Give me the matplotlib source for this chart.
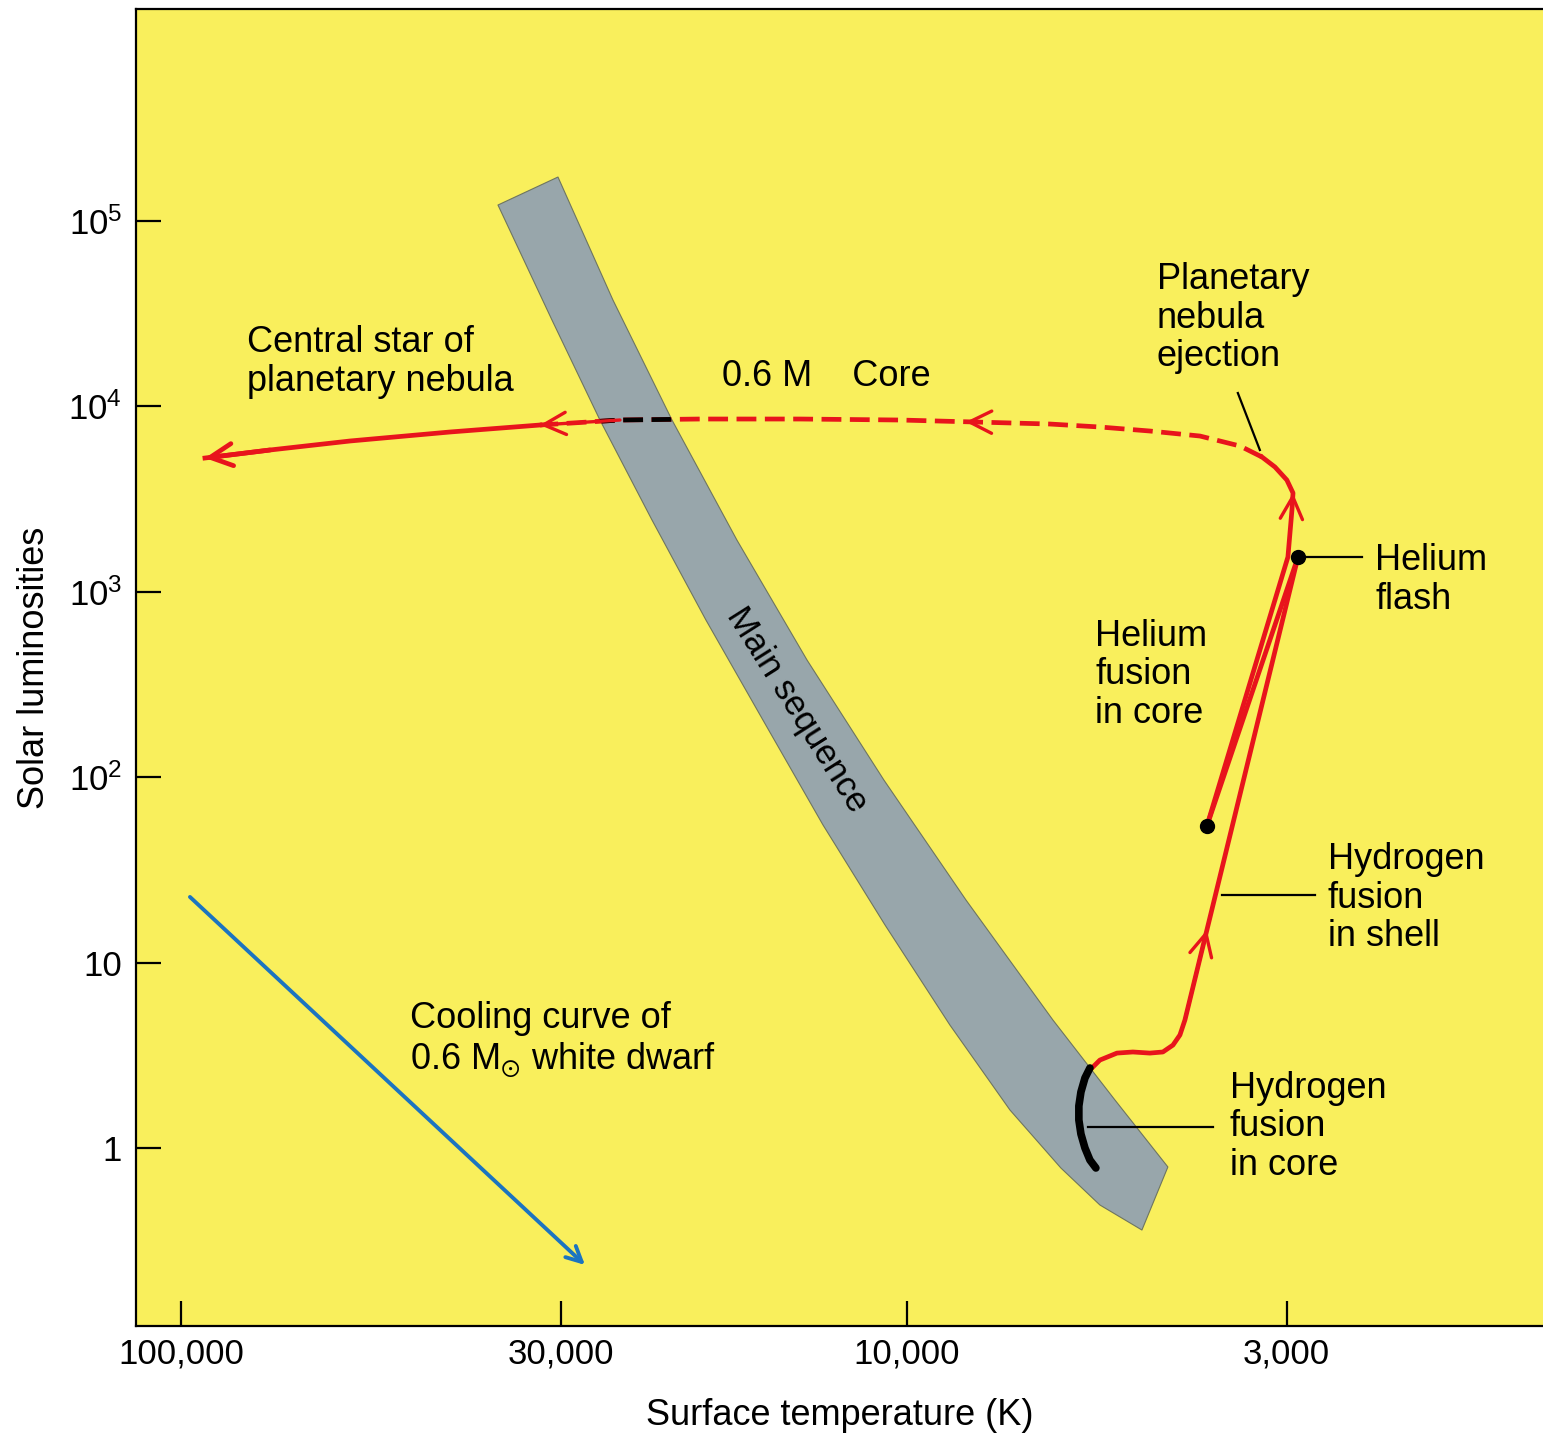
import numpy as np
import matplotlib
matplotlib.use("Agg")
import matplotlib.pyplot as plt
from matplotlib.patches import Polygon

plt.rcParams['font.family'] = ['Liberation Sans', 'DejaVu Sans']
plt.rcParams['mathtext.default'] = 'regular'

W, H = 1543, 1438
YELLOW = '#f9ef5c'
BAND = '#98a6ab'
RED = '#e8141c'
BLUE = '#1c74c0'

# axis ticks
x_ticks = [100000, 30000, 10000, 3000]
x_ticklabels = ['100,000', '30,000', '10,000', '3,000']
y_ticks = [1e5, 1e4, 1e3, 1e2, 10, 1]
y_ticklabels = ['$10^5$', '$10^4$', '$10^3$', '$10^2$', '10', '1']

# main sequence band: cool/bright edge and hot/faint edge (T in K, L in Lsun)
ms_upper_T = [30250, 25410, 21070, 17150, 13730, 10760, 8293, 6294, 5170, 4371]
ms_upper_L = [172700, 37490, 8446, 1903, 428.7, 96.6, 21.76, 4.90, 1.815, 0.79]
ms_lower_T = [36590, 30830, 26480, 22450, 18920, 15790, 13050, 10720, 8727, 7213,
              6137, 5423, 4746]
ms_lower_L = [122000, 29240, 8446, 2440, 704.6, 203.4, 55.23, 15.95, 4.607, 1.603,
              0.780, 0.4927, 0.361]

# core hydrogen burning on the main sequence
core_T = [5597, 5686, 5759, 5797, 5797, 5759, 5686, 5597, 5492]
core_L = [2.70, 2.386, 2.005, 1.685, 1.416, 1.190, 1.0, 0.861, 0.780]

# subgiant wiggle and red giant branch up to the helium flash
rgb_T = [5597, 5423, 5137, 4884, 4628, 4441, 4301, 4207, 4141, 3862, 2893]
rgb_L = [2.634, 2.98, 3.25, 3.295, 3.25, 3.295, 3.59, 4.07, 4.90, 15.0, 1541]

# drop to the horizontal branch
flash_T = [2893, 3862]
flash_L = [1541, 54.6]

# asymptotic giant branch up to the ejection
agb_T = [3862, 2987, 2949, 2939, 2997, 3112, 3243]
agb_L = [54.6, 1541, 2762, 3411, 4009, 4711, 5334]

# post-AGB track across to the central star
pn_dash_T = [3243, 3477, 3948, 4628, 5423, 6353, 8060, 10220, 14040, 19290, 24850, 32030]
pn_dash_L = [5334, 6115, 6922, 7367, 7743, 8035, 8240, 8446, 8551, 8551, 8446, 7937]
pn_solid_T = [32030, 42610, 58520, 75400, 92680]
pn_solid_L = [7937, 7278, 6508, 5820, 5268]

# white dwarf cooling
wd_T = [97200, 27770]
wd_L = [22.6, 0.234]

# stage markers
dots_T = [3862, 2893]
dots_L = [54.6, 1541]

fig = plt.figure(figsize=(W / 100, H / 100), dpi=100)
ax = fig.add_axes([136 / W, 112 / H, 1407 / W, 1317 / H])
ax.set_facecolor(YELLOW)
ax.set_xscale('log')
ax.set_yscale('log')
ax.set_xlim(115340, 1330)
ax.set_ylim(0.1096, 1.392e6)

# main sequence band
band_pts = np.column_stack([ms_upper_T + ms_lower_T[::-1], ms_upper_L + ms_lower_L[::-1]])
band = Polygon(band_pts, closed=True, facecolor=BAND, edgecolor='#6e7560', lw=0.8,
               joinstyle='round', zorder=1)
ax.add_patch(band)
ax.text(0.4698, 0.4677, 'Main sequence', transform=ax.transAxes, fontsize=25,
        rotation=-57.7, ha='center', va='center', rotation_mode='anchor', zorder=3)

lw = 3.4
ax.plot(core_T, core_L, color='black', lw=5.5, solid_capstyle='round', zorder=4)
ax.plot(rgb_T, rgb_L, color=RED, lw=lw, zorder=3)
ax.plot(flash_T, flash_L, color=RED, lw=lw, zorder=3)
ax.plot(agb_T, agb_L, color=RED, lw=lw, zorder=3)
ax.plot(pn_dash_T, pn_dash_L, color=RED, lw=lw, ls=(0, (4.2, 1.8)), zorder=3)
dark, = ax.plot(pn_dash_T, pn_dash_L, color='black', lw=lw, ls=(0, (4.2, 1.8)), zorder=3)
dark.set_clip_path(band)
ax.plot(pn_solid_T, pn_solid_L, color=RED, lw=lw, zorder=3)
ax.plot(dots_T, dots_L, 'o', color='black', ms=10, zorder=5)


def chevron(T0, L0, T1, L1, color, hl=1.6, hw=0.8, w=2.4):
    ax.annotate('', xy=(T1, L1), xytext=(T0, L0),
                arrowprops=dict(arrowstyle='->,head_length=%g,head_width=%g' % (hl, hw),
                                color=color, lw=w, shrinkA=0, shrinkB=0), zorder=4)


chevron(rgb_T[8], rgb_L[8], rgb_T[9], rgb_L[9], RED)
chevron(agb_T[2], agb_L[2], agb_T[3], agb_L[3], RED)
chevron(pn_dash_T[6], pn_dash_L[6], 8300, 8250, RED)
chevron(pn_dash_T[10], pn_dash_L[10], pn_dash_T[11], pn_dash_L[11], RED)
chevron(pn_solid_T[3], pn_solid_L[3], pn_solid_T[4], pn_solid_L[4], RED, w=lw)
ax.annotate('', xy=(wd_T[1], wd_L[1]), xytext=(wd_T[0], wd_L[0]),
            arrowprops=dict(arrowstyle='->,head_length=1.1,head_width=0.55',
                            color=BLUE, lw=2.8, shrinkA=0, shrinkB=0), zorder=4)

# leader lines for labels
ax.plot([5633, 3789], [1.298, 1.298], color='black', lw=1.6, zorder=4)
ax.plot([3683, 2742], [23.15, 23.15], color='black', lw=1.6, zorder=4)
ax.plot([2893, 2362], [1541, 1541], color='black', lw=1.6, zorder=4)
ax.plot([3501, 3265], [11810, 5820], color='black', lw=1.6, zorder=4)

for side in ['top', 'left', 'bottom']:
    ax.spines[side].set_linewidth(1.6)
ax.spines['right'].set_visible(False)
ax.minorticks_off()
ax.set_xticks(x_ticks)
ax.set_xticklabels(x_ticklabels)
ax.set_yticks(y_ticks)
ax.set_yticklabels(y_ticklabels)
ax.tick_params(direction='in', length=18, width=1.6, labelsize=25, pad=8)
ax.tick_params(axis='y', pad=10)

ax.set_xlabel('Surface temperature (K)', fontsize=26, labelpad=20)
ax.set_ylabel('Solar luminosities', fontsize=26, labelpad=12)


def label(x, y, s, **kw):
    fig.text(x / W, 1 - y / H, s, fontsize=26, ha='left', va='center',
             linespacing=1.13, **kw)


label(247, 362, 'Central star of\nplanetary nebula')
label(722, 376, '0.6 M    Core')
label(1157, 318, 'Planetary\nnebula\nejection')
label(1375, 580, 'Helium\nflash')
label(1095, 675, 'Helium\nfusion\nin core')
label(1328, 898, 'Hydrogen\nfusion\nin shell')
label(1230, 1127, 'Hydrogen\nfusion\nin core')
label(410, 1040, 'Cooling curve of\n0.6 M$_{\\odot}$ white dwarf')

fig.savefig('out.png', dpi=100, facecolor='white')
